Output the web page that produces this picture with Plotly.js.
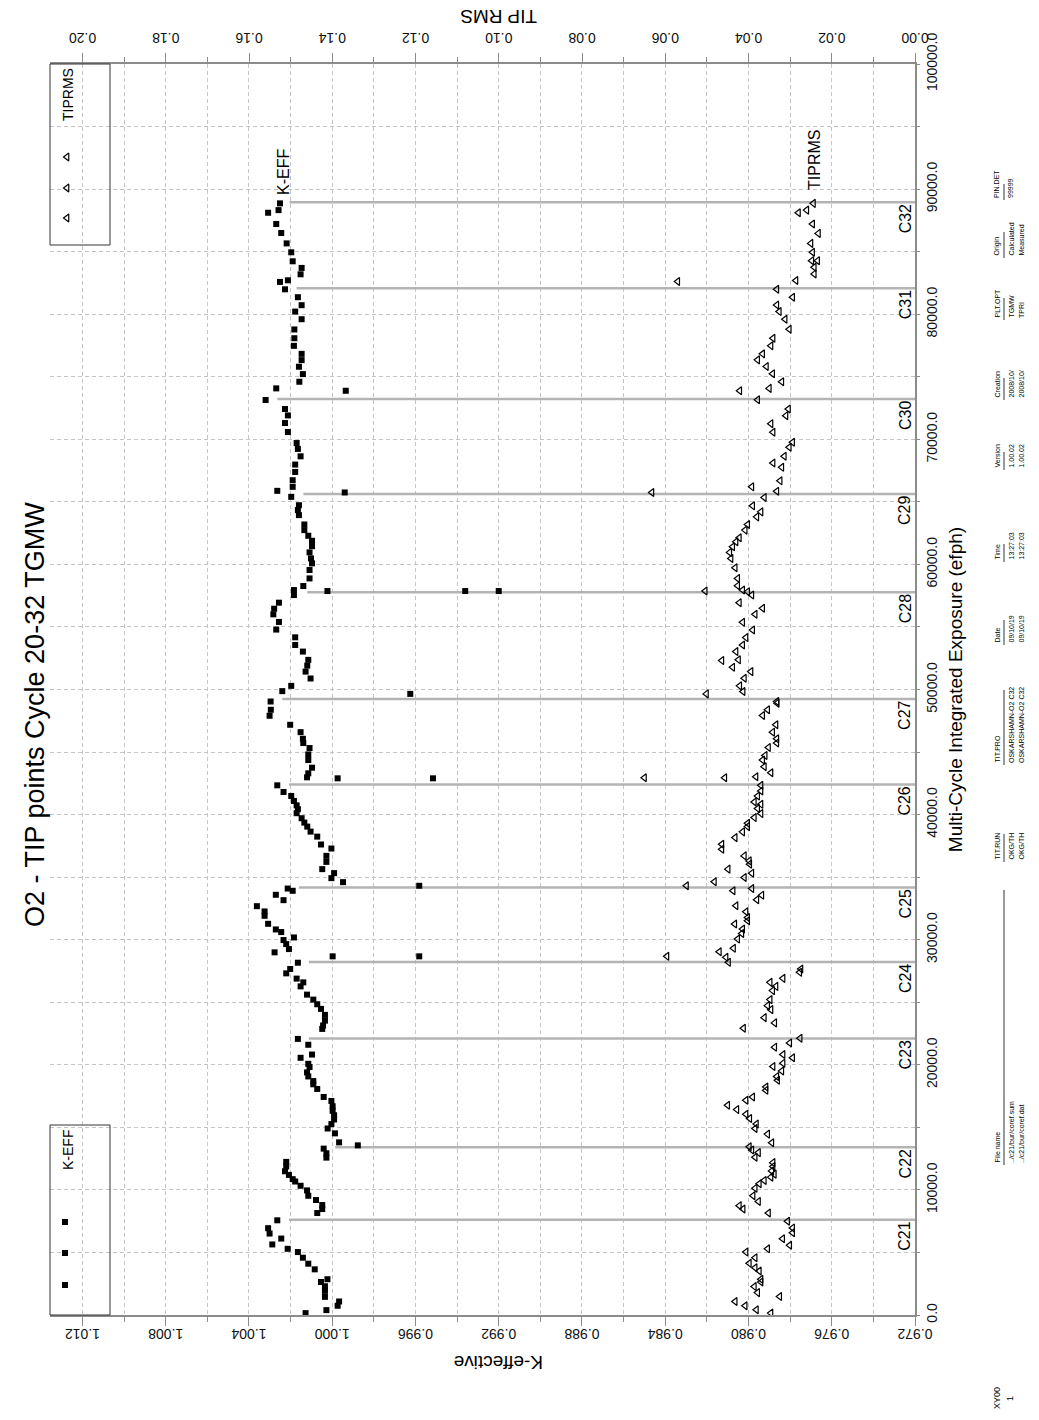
<!DOCTYPE html>
<html>
<head>
<meta charset="utf-8">
<script src="https://cdn.plot.ly/plotly-3.0.1.min.js"></script>
<style>
html,body{margin:0;padding:0;background:#fff;}
#chart{width:1039px;height:1420px;}
</style>
</head>
<body>
<div id="chart"></div>
<script>
// ---------------- DATA ----------------
// K-effective points: exposure (efph) and value
const keffExp = [
88860,88110,88320,87210,86490,85660,84950,84230,83700,83190,82580,82710,81990,81360,80720,80210,79600,78780,78080,77470,76830,76330,75800,75210,74600,74070,73880,73140,72420,71910,71300,70580,69700,69230,68640,
67980,67390,66730,66200,65880,65750,65400,64730,64340,63940,63190,62740,62290,61890,61460,60960,60480,60080,59550,58880,58270,57950,57550,57870,57870,57870,56940,56460,56010,55400,54790,54170,53560,53030,52370,51910,51430,50880,50290,49870,49650,49040,48380,47900,47180,46590,46060,45720,45320,44810,
44360,43750,43300,42980,42900,42900,42340,41810,41490,41090,40740,40430,40110,39710,39360,39040,38640,38240,37610,37290,36700,36220,35640,35320,34920,34600,34310,34090,33910,33590,33160,32680,32260,31910,31270,30820,30610,30180,29970,29650,29250,28990,28670,28670,28160,27660,27310,26890,26590,26270,25610,25210,24840,24470,23990,23530,23140,22870,22070,21600,
20820,20560,20080,19820,19390,19070,18700,18440,18070,17430,17110,16690,16320,15970,15630,15260,14910,14520,13800,13560,13300,12930,12580,12240,11870,11490,11200,10860,10670,10330,9960,9530,9190,8790,8470,8150,7570,6940,6510,6110,5640,5290,5030,4580,4100,3650,2860,2640,2300,1930,1450,1080,740,390,150
];
const keffVal = [
1.00251,1.00308,1.00258,1.00269,1.00245,1.00219,1.00197,1.00190,1.00147,1.00152,1.00251,1.00213,1.00227,1.00165,1.00147,1.00178,1.00147,1.00182,1.00182,1.00184,1.00147,1.00147,1.00160,1.00141,1.00158,1.00269,0.99935,1.00320,1.00227,1.00213,1.00227,1.00213,1.00171,1.00165,1.00152,
1.00178,1.00178,1.00190,1.00190,1.00264,0.99940,1.00197,1.00160,1.00165,1.00160,1.00134,1.00134,1.00115,1.00097,1.00097,1.00109,1.00102,1.00097,1.00109,1.00109,1.00139,1.00184,1.00184,1.00023,0.99361,0.99200,1.00256,1.00279,1.00283,1.00256,1.00269,1.00178,1.00178,1.00141,1.00115,1.00120,1.00128,1.00104,1.00197,1.00240,0.99625,1.00296,1.00295,1.00301,1.00202,1.00152,1.00141,1.00139,1.00109,1.00115,
1.00115,1.00097,1.00115,1.00121,0.99974,0.99516,1.00264,1.00234,1.00197,1.00184,1.00171,1.00165,1.00171,1.00147,1.00134,1.00120,1.00104,1.00072,1.00054,1.00004,1.00028,1.00028,1.00048,0.99991,1.00004,0.99948,0.99582,1.00214,1.00190,1.00271,1.00234,1.00362,1.00325,1.00325,1.00308,1.00271,1.00245,1.00184,1.00234,1.00221,1.00208,1.00277,0.99998,0.99582,1.00165,1.00202,1.00221,1.00171,1.00139,1.00152,1.00121,1.00091,1.00072,1.00054,1.00035,1.00035,1.00044,1.00048,1.00165,1.00115,
1.00097,1.00152,1.00115,1.00109,1.00121,1.00115,1.00091,1.00091,1.00072,1.00041,1.00004,0.99998,0.99998,0.99991,0.99991,1.00004,1.00022,0.99987,0.99967,0.99877,1.00041,1.00028,1.00028,1.00221,1.00221,1.00227,1.00208,1.00190,1.00178,1.00152,1.00121,1.00115,1.00078,1.00048,1.00048,1.00072,1.00264,1.00308,1.00301,1.00245,1.00288,1.00214,1.00165,1.00141,1.00115,1.00084,1.00023,1.00054,1.00035,1.00035,1.00035,0.99967,0.99974,1.00028,1.00128
];
// TIP RMS points: exposure (efph) and value
const tipExp = [
88860,88320,88110,87210,86460,85660,84950,84280,84280,83750,83220,82610,82690,81990,81360,80740,80210,79600,78800,78080,77470,76830,76350,75820,75240,74600,74070,73880,73160,72420,71890,71250,70560,69760,69360,68640,68110,67760,
66680,66200,65850,65750,65350,64680,64200,63800,63190,62740,62130,61810,61410,60960,60480,59730,58880,58300,57950,57820,57550,57870,56940,56490,56010,55370,54760,54150,53560,53030,52310,52370,51780,51430,50900,50290,49840,49650,49040,48910,48380,47920,47180,46590,46060,45720,45370,44730,
44360,43830,43350,43030,42950,42950,42340,41890,41490,41010,40820,40480,40080,39760,39310,39040,38620,38160,37630,37230,36700,36300,36040,35640,35320,34970,34630,34310,33910,34090,33560,33190,32710,32230,31780,31510,31250,30850,30500,30050,29310,29040,28590,28190,28670,27660,27390,26910,26590,26270,25930,25210,24730,24410,23770,23350,22920,22120,21750,21410,
20820,20560,20130,19870,19500,19070,18760,18230,17960,17430,17170,16770,16420,16050,15710,15260,14910,14460,13770,13450,13190,12980,12610,12180,11870,11520,11260,11020,10750,10490,10140,9530,9080,8740,8470,8150,7490,6960,6570,6090,5580,5290,5030,4580,4130,3780,3520,2860,2640,2270,1790,1480,1080,740,420,150
];
const tipVal = [
0.0244,0.0260,0.0280,0.0246,0.0232,0.0250,0.0246,0.0248,0.0234,0.0242,0.0242,0.0570,0.0286,0.0332,0.0294,0.0332,0.0326,0.0312,0.0302,0.0341,0.0346,0.0366,0.0378,0.0357,0.0342,0.0320,0.0350,0.0421,0.0378,0.0304,0.0310,0.0346,0.0341,0.0294,0.0302,0.0314,0.0341,0.0320,
0.0324,0.0392,0.0332,0.0632,0.0362,0.0390,0.0370,0.0380,0.0402,0.0408,0.0422,0.0430,0.0438,0.0445,0.0442,0.0432,0.0426,0.0426,0.0414,0.0402,0.0392,0.0504,0.0422,0.0366,0.0384,0.0414,0.0390,0.0406,0.0414,0.0430,0.0464,0.0424,0.0438,0.0394,0.0410,0.0421,0.0413,0.0501,0.0332,0.0331,0.0354,0.0366,0.0334,0.0342,0.0332,0.0332,0.0352,0.0360,
0.0366,0.0362,0.0346,0.0382,0.0650,0.0457,0.0370,0.0370,0.0378,0.0386,0.0370,0.0378,0.0370,0.0386,0.0402,0.0402,0.0414,0.0432,0.0464,0.0464,0.0410,0.0398,0.0397,0.0449,0.0392,0.0410,0.0482,0.0549,0.0437,0.0392,0.0368,0.0380,0.0430,0.0406,0.0402,0.0402,0.0433,0.0414,0.0416,0.0426,0.0436,0.0470,0.0454,0.0448,0.0596,0.0274,0.0277,0.0317,0.0348,0.0334,0.0342,0.0348,0.0354,0.0346,0.0362,0.0337,0.0412,0.0276,0.0301,0.0337,
0.0317,0.0294,0.0317,0.0341,0.0320,0.0332,0.0330,0.0358,0.0358,0.0390,0.0406,0.0450,0.0428,0.0406,0.0397,0.0381,0.0384,0.0354,0.0344,0.0398,0.0392,0.0376,0.0384,0.0341,0.0341,0.0344,0.0338,0.0346,0.0362,0.0374,0.0384,0.0389,0.0376,0.0422,0.0413,0.0352,0.0306,0.0294,0.0294,0.0318,0.0301,0.0354,0.0406,0.0384,0.0398,0.0384,0.0374,0.0370,0.0370,0.0386,0.0378,0.0325,0.0432,0.0408,0.0381,0.0346
];
// Cycle boundaries: name, end-of-cycle exposure, K-eff level where the boundary line starts
const cycleNames = ['C21','C22','C23','C24','C25','C26','C27','C28','C29','C30','C31','C32'];
const cycleEndExp = [7620,13400,22110,28210,34180,42400,49250,57780,65630,73220,82070,88940];
const cycleEndKeff = [1.00208,0.99986,1.00112,1.00112,1.00160,1.00208,1.00240,1.00120,1.00139,1.00264,1.00171,1.00205];

// Axis ranges
const keffRange = [1.01356, 0.972];
const tipRange = [0.20781, 0.0];
const expRange = [0, 100000];

// Info table (bottom-right block)
const tableHeaders = ['File name','TIT.RUN','TIT.PRO','Date','Time','Version','Creation','PLT.OPT','Origin','PIN.DET'];
const tableRow1 = ['../c21/bur/coref.sum','OKG/TH','OSKARSHAMN-O2 C32','09/10/19','13:27:03','1.00.02','2008/10/','TGMW','Calculated','99999'];
const tableRow2 = ['../c21/bur/coref.dat','OKG/TH','OSKARSHAMN-O2 C32','09/10/19','13:27:03','1.00.02','2008/10/','TPRI','Measured',''];
const tableColStartPx = [1165,862,765,645,562,470,400,320,258,200];
const tableColLinePx = [275,28,75,25,18,18,22,22,26,16];

// ---------------- LAYOUT HELPERS ----------------
const W = 1039, H = 1420;
const M = {l:50, r:124, t:64, b:105};
const PW = W - M.l - M.r, PH = H - M.t - M.b;
const px = x => (x - M.l) / PW;
const py = y => (H - M.b - y) / PH;

const font = 'Liberation Sans, Arial, Helvetica, sans-serif';
const axisGray = '#8c8c8c';
const gridGray = '#c4c4c4';

const traces = [];
// Cycle boundary lines
const bx = [], by = [];
for (let i = 0; i < cycleEndExp.length; i++) {
  bx.push(cycleEndKeff[i], keffRange[1], null);
  by.push(cycleEndExp[i], cycleEndExp[i], null);
}
traces.push({x:bx, y:by, xaxis:'x', yaxis:'y', mode:'lines', type:'scatter',
  line:{color:'#b4b4b4', width:2.5}, hoverinfo:'skip', showlegend:false});
// K-eff markers
traces.push({x:keffVal, y:keffExp, xaxis:'x', yaxis:'y', mode:'markers', type:'scatter', name:'K-EFF',
  marker:{symbol:'square', size:6, color:'#000'}, showlegend:false});
// TIP RMS markers
traces.push({x:tipVal, y:tipExp, xaxis:'x2', yaxis:'y', mode:'markers', type:'scatter', name:'TIPRMS',
  marker:{symbol:'triangle-left-open', size:7, color:'#000', line:{width:1.2, color:'#000'}}, showlegend:false});
// Legend symbols on a helper axis in plot fractions
traces.push({x:[px(65),px(65),px(65)], y:[py(1222),py(1253),py(1285)], xaxis:'x3', yaxis:'y3', mode:'markers', type:'scatter',
  marker:{symbol:'square', size:6, color:'#000'}, hoverinfo:'skip', showlegend:false});
traces.push({x:[px(67),px(67),px(67)], y:[py(157),py(188),py(218)], xaxis:'x3', yaxis:'y3', mode:'markers', type:'scatter',
  marker:{symbol:'triangle-left-open', size:7, color:'#000', line:{width:1.2, color:'#000'}}, hoverinfo:'skip', showlegend:false});

const ann = [];
function label(text, x, y, angle, size, xref, yref) {
  ann.push({text:text, xref:xref || 'paper', yref:yref || 'paper', x:x, y:y, xanchor:'center', yanchor:'middle',
    textangle:angle, showarrow:false, font:{family:font, size:size, color:'#000'}});
}
label('O2 - TIP points Cycle 20-32 TGMW', px(35), py(715), -90, 27);
label('K-effective', px(499), py(1363), 180, 19);
label('TIP RMS', px(499), py(17), 180, 19);
for (let i = 0; i < cycleNames.length; i++) {
  label(cycleNames[i], px(905), cycleEndExp[i] - 1360, -90, 16, 'paper', 'y');
}
label('K-EFF', px(283), py(172), -90, 16);
label('TIPRMS', px(815), py(160), -90, 16);
label('K-EFF', px(68), py(1150), -90, 14);
label('TIPRMS', px(68), py(95), -90, 14);
// info table
const shapes = [];
for (let i = 0; i < tableHeaders.length; i++) {
  const y0 = tableColStartPx[i];
  ann.push({text:tableHeaders[i], xref:'paper', yref:'paper', x:px(997), y:py(y0), yanchor:'bottom', xanchor:'center',
    textangle:-90, showarrow:false, font:{family:font, size:7, color:'#000'}});
  ann.push({text:tableRow1[i], xref:'paper', yref:'paper', x:px(1011), y:py(y0), yanchor:'bottom', xanchor:'center',
    textangle:-90, showarrow:false, font:{family:font, size:7, color:'#000'}});
  if (tableRow2[i]) ann.push({text:tableRow2[i], xref:'paper', yref:'paper', x:px(1021), y:py(y0), yanchor:'bottom', xanchor:'center',
    textangle:-90, showarrow:false, font:{family:font, size:7, color:'#000'}});
  shapes.push({type:'line', xref:'paper', yref:'paper', x0:px(1004), x1:px(1004), y0:py(y0), y1:py(y0 - tableColLinePx[i]),
    line:{color:'#000', width:0.8}});
}
label('XY00', px(997), py(1398), -90, 9);
label('1', px(1010), py(1398), -90, 9);
// legend boxes
shapes.push({type:'rect', xref:'paper', yref:'paper', x0:0, x1:px(110), y0:py(245), y1:1, line:{color:'#333', width:1}});
shapes.push({type:'rect', xref:'paper', yref:'paper', x0:0, x1:px(110), y0:0, y1:py(1125), line:{color:'#333', width:1}});

const tickFont = {family:font, size:14, color:'#111'};
const layout = {
  width:W, height:H, margin:M, paper_bgcolor:'#fff', plot_bgcolor:'#fff',
  font:{family:font, color:'#000'}, showlegend:false,
  xaxis:{range:keffRange, anchor:'y', side:'bottom', showline:true, linecolor:axisGray, linewidth:2,
    ticks:'outside', ticklen:9, tickcolor:axisGray, tickwidth:1, tick0:0.972, dtick:0.004, tickformat:'.3f',
    tickangle:180, tickfont:tickFont, showgrid:true, gridcolor:gridGray, gridwidth:1, griddash:'4px,3px', zeroline:false,
    minor:{tick0:0.972, dtick:0.002, ticks:'outside', ticklen:5, tickcolor:axisGray, showgrid:true, gridcolor:gridGray, griddash:'4px,3px', gridwidth:1}},
  xaxis2:{range:tipRange, overlaying:'x', anchor:'y', side:'top', showline:true, linecolor:axisGray, linewidth:2,
    ticks:'outside', ticklen:9, tickcolor:axisGray, tickwidth:1, tick0:0, dtick:0.02, tickformat:'.2f',
    tickangle:180, tickfont:tickFont, showgrid:false, zeroline:false,
    minor:{tick0:0, dtick:0.01, ticks:'outside', ticklen:5, tickcolor:axisGray, showgrid:false}},
  yaxis:{range:expRange, anchor:'x', side:'right', showline:true, linecolor:axisGray, linewidth:2,
    ticks:'outside', ticklen:3, tickcolor:axisGray, dtick:10000, tickformat:'.1f', tickangle:-90, tickfont:tickFont,
    showgrid:true, gridcolor:gridGray, gridwidth:1, griddash:'4px,3px', zeroline:false,
    minor:{dtick:5000, ticks:'outside', ticklen:3, tickcolor:axisGray, showgrid:true, gridcolor:gridGray, griddash:'4px,3px'},
    title:{text:'Multi-Cycle Integrated Exposure (efph)', font:{family:font, size:19, color:'#000'}, standoff:10}},
  xaxis3:{range:[0,1], overlaying:'x', anchor:'y3', visible:false, fixedrange:true},
  yaxis3:{range:[0,1], overlaying:'y', anchor:'x3', visible:false, fixedrange:true},
  annotations:ann, shapes:shapes
};
Plotly.newPlot('chart', traces, layout, {staticPlot:true, displayModeBar:false});
</script>
</body>
</html>
